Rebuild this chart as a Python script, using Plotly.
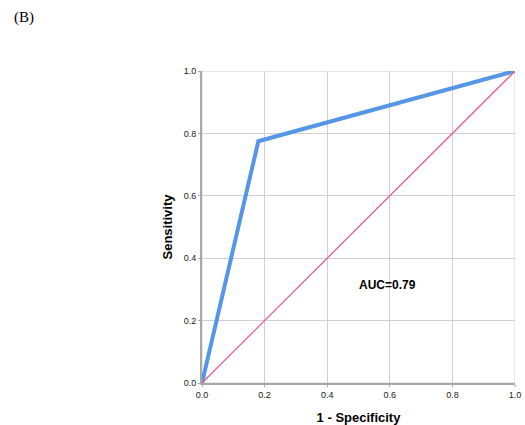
import plotly.graph_objects as go

fpr = [0.0, 0.18, 1.0]
tpr = [0.0, 0.775, 1.0]
ref_x = [0.0, 1.0]
ref_y = [0.0, 1.0]
tick_vals = [0.0, 0.2, 0.4, 0.6, 0.8, 1.0]
tick_text = ["0.0", "0.2", "0.4", "0.6", "0.8", "1.0"]
auc_label = "AUC=0.79"
panel_label = "(B)"

fig = go.Figure()
fig.add_trace(go.Scatter(x=fpr, y=tpr, mode="lines",
                         line=dict(color="#5596E6", width=4), showlegend=False))
fig.add_trace(go.Scatter(x=ref_x, y=ref_y, mode="lines",
                         line=dict(color="#E3608A", width=1.3), showlegend=False))

fig.add_annotation(x=0.594, y=0.314, xref="x", yref="y", text="<b>" + auc_label + "</b>",
                   showarrow=False, font=dict(family="Liberation Sans, Arial", size=12, color="#000"))
fig.add_annotation(x=-0.57, y=1.17, xref="paper", yref="paper", text=panel_label,
                   showarrow=False, xanchor="center", yanchor="middle",
                   font=dict(family="Liberation Serif, Times New Roman", size=15, color="#000"))

axis_common = dict(range=[0, 1], tickvals=tick_vals, ticktext=tick_text,
                   showgrid=True, gridcolor="#D0D0D0", gridwidth=1,
                   zeroline=False, showline=True, linecolor="#A8A8A8", linewidth=2,
                   ticks="outside", ticklen=2, tickcolor="#A8A8A8",
                   tickfont=dict(family="Liberation Sans, Arial", size=9, color="#222"),
                   automargin=False, fixedrange=True)

fig.update_xaxes(**axis_common,
                 title=dict(text="<b>1 - Specificity</b>", standoff=14,
                            font=dict(family="Liberation Sans, Arial", size=13, color="#000")))
fig.update_yaxes(**axis_common,
                 title=dict(text="<b>Sensitivity</b>", standoff=8,
                            font=dict(family="Liberation Sans, Arial", size=13, color="#000")))

fig.update_layout(width=525, height=425,
                  margin=dict(l=202, r=10, t=71, b=42),
                  paper_bgcolor="white", plot_bgcolor="white",
                  shapes=[dict(type="rect", xref="x", yref="y", x0=0, y0=0, x1=1, y1=1,
                               line=dict(color="#D0D0D0", width=1), layer="below")])

fig.write_html("out.html", config={"displayModeBar": False},
               post_script="document.body.style.margin='0';document.body.style.overflow='hidden';")
